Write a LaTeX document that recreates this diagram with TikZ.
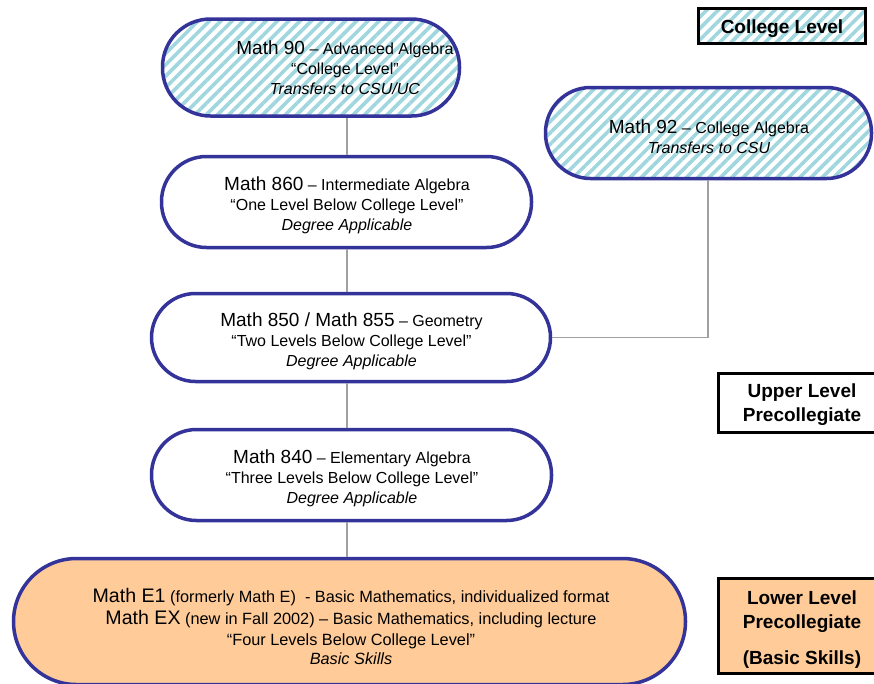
\documentclass[tikz,border=0pt]{standalone}
\usepackage{fontspec}
\setmainfont{Liberation Sans}
\usetikzlibrary{patterns.meta}
\definecolor{navy}{RGB}{51,51,153}
\definecolor{hatchblue}{RGB}{160,214,222}
\definecolor{peach}{RGB}{255,204,153}
\definecolor{conngray}{RGB}{160,160,160}
\newcommand\ctitle[1]{{\fontsize{19}{20}\selectfont #1}}
\newcommand\etitle[1]{{\fontsize{19.6}{20}\selectfont #1}}
\begin{document}
\begin{tikzpicture}[x=1pt,y=1pt,
  course/.style={draw=navy,line width=3.5pt,rounded corners=#1,inner sep=0pt},
  hatched/.style={pattern={Lines[angle=45,distance=8pt,line width=3.6pt]},pattern color=hatchblue},
  coursetext/.style={align=center,inner sep=0pt,font=\fontsize{16}{20}\selectfont},
  basictext/.style={align=center,inner sep=0pt,font=\fontsize{16.3}{20}\selectfont},
  levelbox/.style={draw=black,line width=3pt,inner sep=0pt},
  leveltext/.style={align=center,inner sep=0pt,font=\fontsize{19}{24}\selectfont\bfseries},
  link/.style={draw=conngray,line width=1.5pt}
]
\useasboundingbox (0,0) rectangle (874,-683);
\coordinate (axis) at (347,0);
\coordinate (axis92) at (708,0);

% course shapes
\node[course=48pt,hatched,minimum width=297pt,minimum height=97pt] (m90) at (311,-67.5) {};
\node[course=45pt,hatched,minimum width=326pt,minimum height=91pt] (m92) at (708.5,-133) {};
\node[course=45pt,fill=white,minimum width=370pt,minimum height=91pt] (m860) at (346.5,-202) {};
\node[course=44pt,fill=white,minimum width=399pt,minimum height=88pt] (m850) at (351,-337.5) {};
\node[course=45pt,fill=white,minimum width=400pt,minimum height=91pt] (m840) at (351.5,-475) {};
\node[course=63pt,fill=peach,minimum width=672pt,minimum height=126pt] (mE) at (349.5,-621.5) {};

% connectors
\draw[link] (m90.south -| axis) -- (m860.north -| axis);
\draw[link] (m860.south -| axis) -- (m850.north -| axis);
\draw[link] (m850.south -| axis) -- (m840.north -| axis);
\draw[link] (m840.south -| axis) -- (mE.north -| axis);
\draw[link] (m92.south -| axis92) |- (m850.east);

% texts
\node[coursetext] (t90) at (345,-68) {\ctitle{Math 90} – Advanced Algebra\\“College Level”\\\textit{Transfers to CSU/UC}};
\node[coursetext] (t92) at (709,-137) {\ctitle{Math 92} – College Algebra\\\textit{Transfers to CSU}};
\node[coursetext] (t860) at (347,-205) {\ctitle{Math 860} – Intermediate Algebra\\“One Level Below College Level”\\\textit{Degree Applicable}};
\node[coursetext] (t850) at (351.5,-341) {\ctitle{Math 850 / Math 855} – Geometry\\“Two Levels Below College Level”\\\textit{Degree Applicable}};
\node[coursetext] (t840) at (352,-478) {\ctitle{Math 840} – Elementary Algebra\\“Three Levels Below College Level”\\\textit{Degree Applicable}};
\node[basictext] (tE) at (351,-626) {\etitle{Math E1} (formerly Math E)\ \ - Basic Mathematics, individualized format\\[2.5pt]\etitle{Math EX} (new in Fall 2002) – Basic Mathematics, including lecture\\[0.5pt]“Four Levels Below College Level”\\[-1pt]\textit{Basic Skills}};

% level labels
\node[levelbox,hatched,minimum width=167pt,minimum height=35pt] (lc) at (782,-26) {};
\node[leveltext] (lct) at (782,-29) {College Level};
\node[levelbox,fill=white,minimum width=165pt,minimum height=59pt] (lu) at (801,-403) {};
\node[leveltext] (lut) at (802,-405) {Upper Level\\Precollegiate};
\node[levelbox,fill=peach,minimum width=165pt,minimum height=95pt] (ll) at (801,-626) {};
\node[leveltext] (llt) at (802,-630) {Lower Level\\Precollegiate\\[12pt](Basic Skills)};
\end{tikzpicture}
\end{document}
